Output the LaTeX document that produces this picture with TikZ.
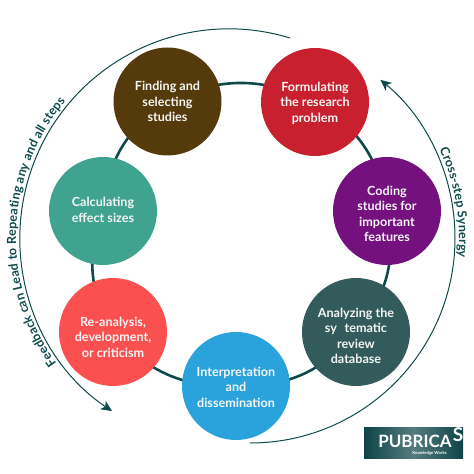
\documentclass[tikz,border=0pt]{standalone}
\usepackage{fontspec}
\setmainfont{Lato}
\usetikzlibrary{backgrounds,decorations.text,arrows.meta}
\definecolor{ringteal}{HTML}{0F4A4A}
\definecolor{findbrown}{HTML}{553A0B}
\definecolor{formred}{HTML}{C9202F}
\definecolor{codepurple}{HTML}{75107F}
\definecolor{analyzeteal}{HTML}{335B5B}
\definecolor{interpblue}{HTML}{2AA3DC}
\definecolor{reancoral}{HTML}{FB5050}
\definecolor{calcgreen}{HTML}{3FA390}
\definecolor{logoteal}{HTML}{0E4448}
\tikzset{
  stepnode/.style={circle, minimum size=108pt, inner sep=0pt},
  steptext/.style={align=center, inner sep=0pt, text=white!96!black,
    font=\fontsize{12.6}{15.4}\selectfont\bfseries},
  ringline/.style={ringteal, line width=2.6pt},
  outerline/.style={ringteal, line width=1pt, -{Stealth[length=11pt,width=10pt,inset=3pt]}},
  arctext/.style={decorate, decoration={text along path, raise=4pt,
      text={|\fontsize{12.6}{16}\selectfont\bfseries\color{ringteal}|#1}}},
}
\begin{document}
\begin{tikzpicture}[x=1pt, y=1pt, line cap=round]
  \useasboundingbox (0,0) rectangle (474,474);
  \foreach \nm/\px/\py/\dy/\col/\txt in {
    find/167.5/372.5/0/findbrown/{Finding and\\selecting\\studies},
    form/315/372/-1/formred/{Formulating\\the research\\problem},
    code/387/263/-3/codepurple/{Coding\\studies for\\important\\features},
    analyze/356/142/-4/analyzeteal/{Analyzing the\\sy\hspace{0.6em}tematic\\review\\database},
    interp/236/88/-1/interpblue/{Interpretation\\and\\dissemination},
    rean/113/142/-5/reancoral/{Re-analysis,\\development,\\or criticism},
    calc/103/263/1/calcgreen/{Calculating\\effect sizes}}
  \node[stepnode, fill=\col, label={[steptext, yshift=\dy pt]center:\txt}] (\nm) at (\px,\py) {};
  \begin{scope}[on background layer]
    \foreach \a/\b in {find/form,form/code,code/analyze,analyze/interp,interp/rean,rean/calc,calc/find}
    \draw[ringline] (\a.center) to[bend left=25.7] (\b.center);
  \end{scope}
  % outer arrows
  \coordinate (fbstart) at (290,436);
  \coordinate (crossstart) at (250,31);
  \draw[outerline] (fbstart) arc[start angle=73, end angle=236, radius=209];
  \draw[outerline] (crossstart) arc[start angle=-90, end angle=50.5, radius=205];
  \path[arctext={Feedback can Lead to Repeating any and all steps}]
    (229,236) ++(216:209) arc[start angle=216, end angle=130, radius=209];
  \path[arctext={Cross-step Synergy}]
    (250,236) ++(25:205) arc[start angle=25, end angle=-12, radius=205];
  % logo
  \node[left color=logoteal, right color=logoteal, middle color=logoteal!70!white,
    minimum width=99pt, minimum height=31pt, inner sep=0pt] (logo) at (413.5,30.5) {};
  \node[text=white, font=\fontsize{17}{17}\selectfont\bfseries, inner sep=0pt] (logoname) at (415,32.5) {PUBRICA};
  \node[text=white, font=\fontsize{19}{19}\selectfont\bfseries, inner sep=0pt] (logos) at (458,39) {S};
  \node[text=white, font=\fontsize{4.2}{5}\selectfont\bfseries, inner sep=0pt] (logotag) at (429.5,21) {Knowledge Works};
\end{tikzpicture}
\end{document}
